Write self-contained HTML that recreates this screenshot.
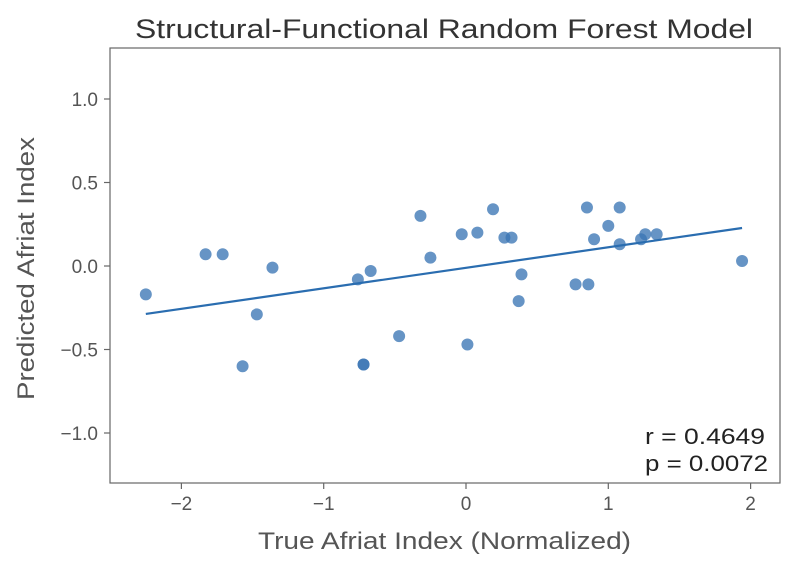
<!DOCTYPE html>
<html><head><meta charset="utf-8"><style>
body{margin:0;background:#fff;width:793px;height:568px;overflow:hidden}
svg{font-family:"Liberation Sans",sans-serif}
</style></head><body>
<svg id="chart" width="793" height="568">
<text x="135" y="38" font-size="27" fill="#333" textLength="618" lengthAdjust="spacingAndGlyphs">Structural-Functional Random Forest Model</text>
<rect x="110" y="48" width="670" height="435" fill="none" stroke="#666" stroke-width="1.2"/>
<g id="xt"></g><g id="yt"></g><g id="pts"></g><g id="ln"></g>
<text x="258" y="549" font-size="24" fill="#555" textLength="373" lengthAdjust="spacingAndGlyphs">True Afriat Index (Normalized)</text>
<text transform="translate(34,400) rotate(-90)" font-size="24" fill="#555" textLength="263" lengthAdjust="spacingAndGlyphs">Predicted Afriat Index</text>
<text x="645" y="444" font-size="22.5" fill="#222" textLength="120" lengthAdjust="spacingAndGlyphs">r = 0.4649</text>
<text x="645" y="471" font-size="22.5" fill="#222" textLength="123" lengthAdjust="spacingAndGlyphs">p = 0.0072</text>
</svg>
<script>
const xTicks=[-2,-1,0,1,2];
const yTicks=[-1.0,-0.5,0.0,0.5,1.0];
const xTrue=[-2.25,-1.83,-1.71,-1.36,-1.47,-1.57,-0.76,-0.67,-0.72,-0.72,-0.47,-0.32,-0.25,-0.03,0.01,0.08,0.19,0.27,0.32,0.39,0.37,0.77,0.86,0.85,0.90,1.00,1.08,1.08,1.23,1.26,1.34,1.94];
const yPred=[-0.17,0.07,0.07,-0.01,-0.29,-0.60,-0.08,-0.03,-0.59,-0.59,-0.42,0.30,0.05,0.19,-0.47,0.20,0.34,0.17,0.17,-0.05,-0.21,-0.11,-0.11,0.35,0.16,0.24,0.35,0.13,0.16,0.19,0.19,0.03];
const X=v=>466+v*142.3, Y=v=>266-v*167;
const NS="http://www.w3.org/2000/svg";
function mk(tag,attrs,parent,text){const e=document.createElementNS(NS,tag);for(const k in attrs)e.setAttribute(k,attrs[k]);if(text!==undefined)e.textContent=text;parent.appendChild(e);return e;}
const xt=document.getElementById('xt'),yt=document.getElementById('yt'),pts=document.getElementById('pts'),ln=document.getElementById('ln');
xTicks.forEach(t=>{
 const l=mk('line',{x1:X(t),x2:X(t),y1:483,y2:489,stroke:'#666','stroke-width':1.2},xt);
 
 
 const s=mk('text',{x:X(t),y:510,'font-size':19,fill:'#555','text-anchor':'middle'},xt,(t<0?'\u2212':'')+Math.abs(t));
 
 
});
yTicks.forEach(t=>{
 const l=mk('line',{x1:104,x2:110,y1:Y(t),y2:Y(t),stroke:'#666','stroke-width':1.2},yt);
 
 
 const s=mk('text',{x:98,y:Y(t)+7,'font-size':19,fill:'#555','text-anchor':'end'},yt,(t<0?'\u2212':'')+Math.abs(t).toFixed(1));
 
 
});
xTrue.forEach((x,i)=>{
 const c=mk('circle',{cx:X(x),cy:Y(yPred[i]),r:6,fill:'#3b76b5','fill-opacity':0.78},pts);
 
 
});
const n=xTrue.length,mx=xTrue.reduce((a,b)=>a+b)/n,my=yPred.reduce((a,b)=>a+b)/n;
let sxy=0,sxx=0;xTrue.forEach((x,i)=>{sxy+=(x-mx)*(yPred[i]-my);sxx+=(x-mx)*(x-mx);});
const b=sxy/sxx,a=my-b*mx,x0=Math.min(...xTrue),x1=Math.max(...xTrue);
const rl=mk('line',{x1:X(x0),y1:Y(a+b*x0),x2:X(x1),y2:Y(a+b*x1),stroke:'#2a6db0','stroke-width':2.2},ln);


</script>
</body></html>
